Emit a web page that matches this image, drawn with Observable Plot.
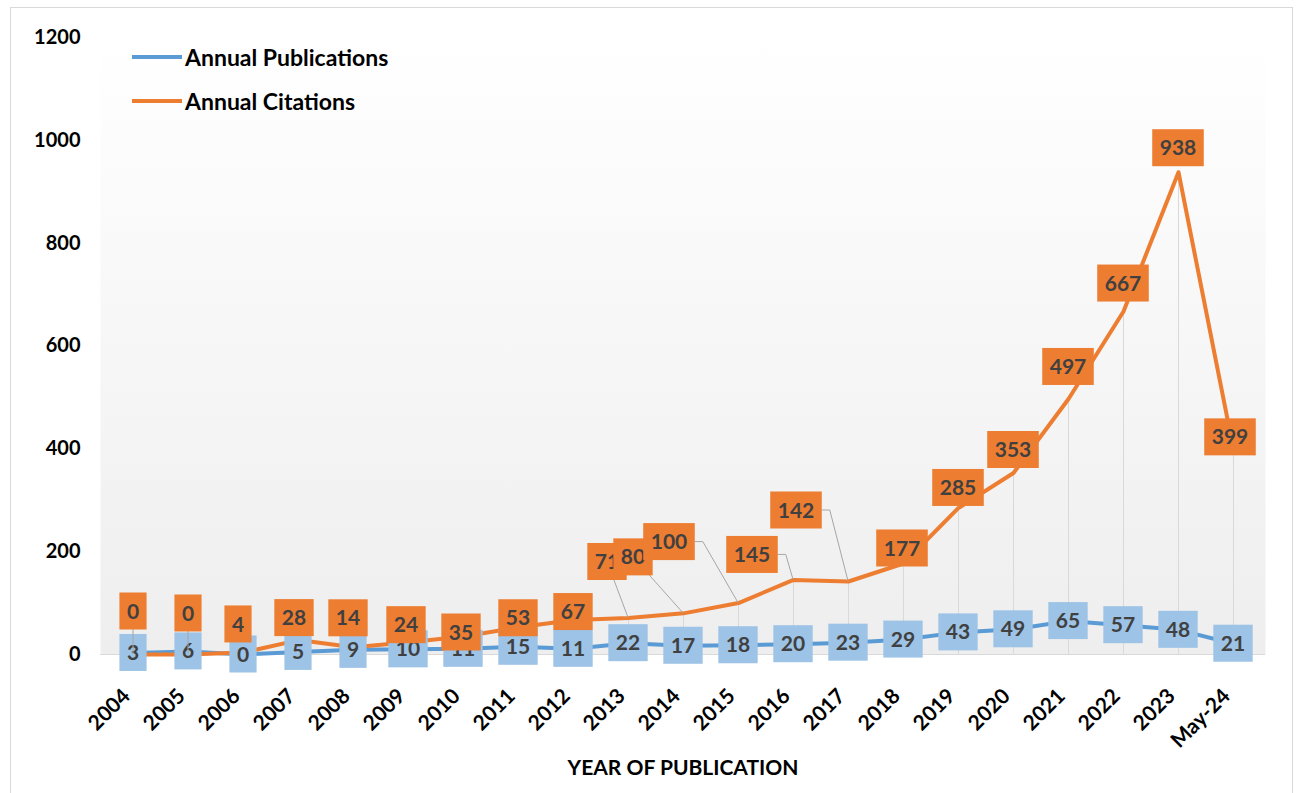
<!DOCTYPE html>
<html>
<head>
<meta charset="utf-8">
<script src="https://cdn.jsdelivr.net/npm/d3@7"></script>
<script src="https://cdn.jsdelivr.net/npm/@observablehq/plot@0.6"></script>
<style>
  html, body { margin: 0; padding: 0; background: #fff; }
  #wrap { position: relative; width: 1298px; height: 793px; overflow: hidden; font-family: Lato, "Open Sans", sans-serif; }
  #border { position: absolute; left: 10px; top: 7px; width: 1283px; height: 820px; border: 1.5px solid #d9d9d9; box-sizing: border-box; }
  #chart { position: absolute; left: 0; top: 0; }
  .legend-item { position: absolute; left: 132px; height: 26px; display: flex; align-items: center; font-weight: 700; font-size: 23px; color: #000; white-space: nowrap; }
  .legend-item .swatch { width: 50px; height: 4px; margin-right: 3px; }
</style>
</head>
<body>
<div id="wrap">
  <div id="border"></div>
  <div id="chart"></div>
  <div id="legend"></div>
</div>
<script>
// ---------------- data ----------------
const years = ["2004","2005","2006","2007","2008","2009","2010","2011","2012","2013","2014","2015","2016","2017","2018","2019","2020","2021","2022","2023","May-24"];
const publications = [3,6,0,5,9,10,11,15,11,22,17,18,20,23,29,43,49,65,57,48,21];
const citations = [0,0,4,28,14,24,35,53,67,71,80,100,145,142,177,285,353,497,667,938,399];
const yTicks = [0,200,400,600,800,1000,1200];
const seriesNames = ["Annual Publications","Annual Citations"];
const seriesColors = ["#5B9BD5","#ED7D31"];
const xTitle = "YEAR OF PUBLICATION";

// ---------------- label layout (pixel offsets of citation labels from their points) ----------------
const citationLabelDx = [0,0,-5,-4,-5,-2,-2,0,0,-21,-50,-69,-41,-52,-1,0,0,0,0,0,-3];
const citationLabelDy = [-43,-41,-28,-22,-29,-17,-4,-9,-8,-56,-56,-61,-25,-71,-15,-20,-23,-32,-28,-24,-12];
const citationLeader = ["line","line",null,null,null,null,null,null,null,"line","line","elbow","elbow","elbow",null,null,null,null,null,null,null];

const table = years.map((year, i) => ({year, publications: publications[i], citations: citations[i]}));

const LABEL_FONT = 21;
const ctx = document.createElement("canvas").getContext("2d");
function textWidth(s) { ctx.font = `bold ${LABEL_FONT}px Lato`; return ctx.measureText(s).width; }

function boxLabels(rows, key, fill, dxs, dys, leaders) {
  return Plot.text(rows, {
    x: "year", y: key, text: d => String(d[key]),
    render(index, scales, values) {
      const g = d3.create("svg:g");
      const items = Array.from(index, i => {
        const px = values.x[i], py = values.y[i];
        const cx = px + (dxs ? dxs[i] : 0), cy = py + (dys ? dys[i] : 0);
        const s = String(rows[i][key]);
        const w = textWidth(s) + 15, h = 37;
        return {i, px, py, cx, cy, s, w, h};
      });
      for (const it of items) {
        const lead = leaders && leaders[it.i];
        if (lead === "line") {
          g.append("line").attr("x1", it.cx).attr("y1", it.cy).attr("x2", it.px).attr("y2", it.py)
            .attr("stroke", "#a6a6a6").attr("stroke-width", 1);
        } else if (lead === "elbow") {
          const ex = it.cx + it.w / 2;
          g.append("polyline").attr("points", `${ex},${it.cy} ${ex + 8},${it.cy} ${it.px},${it.py}`)
            .attr("fill", "none").attr("stroke", "#a6a6a6").attr("stroke-width", 1);
        }
      }
      for (const it of items) {
        g.append("rect").attr("x", it.cx - it.w / 2).attr("y", it.cy - it.h / 2)
          .attr("width", it.w).attr("height", it.h).attr("fill", fill);
        g.append("text").attr("x", it.cx).attr("y", it.cy).attr("dy", "0.36em")
          .attr("text-anchor", "middle").attr("font-family", "Lato").attr("font-weight", "bold")
          .attr("font-size", LABEL_FONT).attr("fill", "#404040").text(it.s);
      }
      return g.node();
    }
  });
}

const gradientDefs = () => {
  const defs = d3.create("svg:defs");
  const lg = defs.append("linearGradient").attr("id", "plotBg").attr("x1", 0).attr("y1", 0).attr("x2", 0).attr("y2", 1);
  lg.append("stop").attr("offset", "0%").attr("stop-color", "#ffffff");
  lg.append("stop").attr("offset", "100%").attr("stop-color", "#eeeeee");
  return defs.node();
};

const chart = Plot.plot({
  width: 1298,
  height: 793,
  marginLeft: 100,
  marginRight: 33,
  marginTop: 37,
  marginBottom: 139,
  style: {fontFamily: "Lato", fontSize: "20px", color: "#000", background: "transparent", overflow: "visible"},
  x: {type: "point", domain: years, padding: 0.5, label: null},
  y: {domain: [0, 1200], label: null},
  marks: [
    gradientDefs,
    Plot.frame({fill: "url(#plotBg)", stroke: null}),
    Plot.ruleY([0], {stroke: "#d9d9d9", strokeWidth: 1.2}),
    Plot.ruleX(table, {x: "year", y1: 0, y2: "citations", stroke: "#d9d9d9", strokeWidth: 1}),
    Plot.lineY(table, {x: "year", y: "publications", stroke: seriesColors[0], strokeWidth: 4}),
    Plot.lineY(table, {x: "year", y: "citations", stroke: seriesColors[1], strokeWidth: 4}),
    Plot.axisY(yTicks, {tickSize: 0, tickPadding: 20, tickFormat: d => String(d), fontSize: 20, fontWeight: "bold", fill: "#000", label: null}),
    Plot.axisX({tickSize: 0, tickRotate: -45, tickPadding: 38, dx: -7, textAnchor: "end", fontSize: 21, fontWeight: "bold", fill: "#000", label: null}),
    boxLabels(table, "publications", "#9DC3E6", null, null, null),
    boxLabels(table, "citations", seriesColors[1], citationLabelDx, citationLabelDy, citationLeader),
    Plot.text([xTitle], {frameAnchor: "bottom", dy: 120, text: d => d, fontSize: 21, fontWeight: "bold", fill: "#000"})
  ]
});
document.getElementById("chart").appendChild(chart);

// legend
const legend = document.getElementById("legend");
const legendTops = [44, 88];
seriesNames.forEach((name, k) => {
  const item = document.createElement("div");
  item.className = "legend-item";
  item.style.top = legendTops[k] + "px";
  const sw = document.createElement("span");
  sw.className = "swatch";
  sw.style.background = seriesColors[k];
  const tx = document.createElement("span");
  tx.textContent = name;
  item.appendChild(sw);
  item.appendChild(tx);
  legend.appendChild(item);
});
</script>
</body>
</html>
